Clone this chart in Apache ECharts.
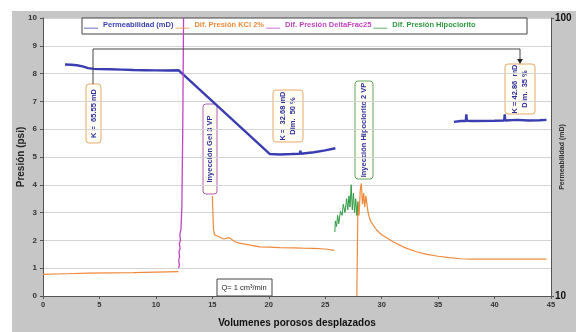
<!DOCTYPE html>
<html lang="es">
<head>
  <meta charset="UTF-8">
  <script src="https://cdn.jsdelivr.net/npm/echarts@6/dist/echarts.min.js"></script>
  <style>
    body { margin: 0; background: #fff; }
    #container { position: absolute; left: 12px; top: 11px; width: 564px; height: 321px; }
  </style>
</head>
<body>
  <div id="container"></div>
  <script>
    // nombres de series
    var seriesNames = ['Permeabilidad (mD)', 'Dif. Presión KCl 2%', 'Dif. Presión DeltaFrac25', 'Dif. Presión Hipoclorito'];
    var seriesColors = ['#3a3eb0', '#f08a3a', '#c044c0', '#2e9a40'];

    // permeabilidad (VP, mD) - eje derecho log
    var permData = [
      [1.95, 68.0], [2.5, 67.9], [3.0, 67.6], [3.5, 67.0], [4.0, 66.0], [4.5, 65.6], [5, 65.5], [6, 65.4],
      [7, 65.2], [8, 65.0], [9, 64.9], [10, 64.8], [11, 64.7], [12.0, 64.9],
      [20.1, 32.4], [21, 32.3], [22, 32.4], [22.75, 32.5], [22.8, 33.3], [22.85, 32.5], [24, 32.9], [25, 33.4], [25.9, 34.0],
      [26, '-'],
      [36.4, 42.3], [37, 42.6], [37.45, 42.6], [37.5, 45.0], [37.55, 42.7], [38, 42.6], [40, 42.7],
      [40.85, 42.8], [40.9, 45.0], [40.95, 42.8], [42, 43.0], [43, 42.8], [44, 42.9], [44.6, 43.0]
    ];

    // presion KCl (VP, psi)
    var kclData = [
      [0, 0.78], [2, 0.8], [4, 0.82], [6, 0.83], [8, 0.84], [10, 0.86], [12, 0.88],
      [13, '-'],
      [15.0, 3.6], [15.1, 2.4], [15.2, 2.2], [15.5, 2.15], [16, 2.05], [16.5, 2.1], [17, 1.95], [17.4, 1.9],
      [18, 1.86], [19.2, 1.77], [20, 1.76], [21, 1.74], [22.1, 1.73], [23, 1.72], [24, 1.71], [25, 1.69], [25.8, 1.64],
      [26.5, '-'],
      [27.8, 0], [27.9, 3.4], [28.0, 2.9], [28.1, 3.8], [28.2, 4.05], [28.3, 3.3], [28.4, 3.7], [28.5, 3.2],
      [28.6, 3.6], [28.8, 3.0], [29, 2.7], [29.5, 2.4], [30, 2.2], [31, 1.95], [32, 1.75], [33, 1.6], [34, 1.5],
      [35, 1.43], [36, 1.38], [37, 1.34], [38, 1.33], [40, 1.33], [42, 1.33], [44.6, 1.33]
    ];

    // presion DeltaFrac25 (VP, psi)
    var deltaData = [
      [12.0, 1.0], [12.08, 1.1], [12.02, 1.3], [12.1, 1.4], [12.05, 1.6], [12.14, 1.7], [12.08, 1.9],
      [12.18, 2.0], [12.12, 2.2], [12.22, 2.4], [12.3, 3.2], [12.38, 6.0], [12.45, 10.0]
    ];

    // presion hipoclorito (VP, psi)
    var hipoData = [
      [25.85, 2.3], [25.9, 2.7], [26.0, 2.5], [26.1, 2.9], [26.2, 2.6], [26.35, 3.05], [26.5, 2.9], [26.6, 3.3],
      [26.75, 3.0], [26.9, 3.5], [27.0, 3.1], [27.1, 3.6], [27.2, 3.2], [27.3, 4.0], [27.4, 3.1], [27.5, 3.7],
      [27.6, 3.0], [27.7, 3.5], [27.8, 2.9], [27.9, 3.4]
    ];

    var font = 'Liberation Sans, Arial, sans-serif';
    var myChart = echarts.init(document.getElementById('container'));

    function box(x, y, w, h, border, text) {
      return {
        type: 'group', z: 6,
        children: [
          { type: 'rect', shape: { x: x, y: y, width: w, height: h, r: 3 },
            style: { fill: '#fffef4', stroke: border, lineWidth: 1 } },
          { type: 'text', x: x + w / 2, y: y + h / 2, rotation: Math.PI / 2,
            style: { text: text, align: 'center', verticalAlign: 'middle', fill: '#2e2e9c',
              font: 'bold 7.5px ' + font, lineHeight: 10 } }
        ]
      };
    }

    var option = {
      backgroundColor: '#c6c6c6',
      animation: false,
      grid: { left: 31, right: 25, top: 7, bottom: 36, show: true, backgroundColor: '#fff', borderWidth: 0,
        containLabel: false, outerBoundsMode: 'none' },
      legend: {
        left: 72, top: 10, padding: 0, itemWidth: 14, itemHeight: 9, itemGap: 2,
        icon: 'path://M0,0L0.01,0L0.01,0.01ZM0,9L20,9L20,10L0,10Z',
        textStyle: { fontSize: 7.5, fontWeight: 'bold', fontFamily: font },
        data: seriesNames.map(function (n, i) { return { name: n, textStyle: { color: seriesColors[i] } }; })
      },
      xAxis: {
        type: 'value', min: 0, max: 45, interval: 5,
        axisLine: { onZero: false, lineStyle: { color: '#555' } },
        axisTick: { length: 3, lineStyle: { color: '#555' } },
        axisLabel: { fontSize: 7.5, fontWeight: 'bold', color: '#333', margin: 5, fontFamily: font },
        splitLine: { show: false },
        name: 'Volumenes porosos desplazados', nameLocation: 'middle', nameGap: 22, nameMoveOverlap: false,
        nameTextStyle: { fontSize: 10, fontWeight: 'bold', color: '#111', fontFamily: font }
      },
      yAxis: [
        {
          type: 'value', min: 0, max: 10, interval: 1,
          axisLine: { show: true, lineStyle: { color: '#555' } },
          axisTick: { show: true, length: 3, lineStyle: { color: '#555' } },
          axisLabel: { fontSize: 8, fontWeight: 'bold', color: '#333', margin: 6, fontFamily: font },
          splitLine: { lineStyle: { color: '#d4d4d4' } },
          name: 'Presión (psi)', nameLocation: 'middle', nameGap: 17, nameRotate: 90, nameMoveOverlap: false,
          nameTextStyle: { fontSize: 10, fontWeight: 'bold', color: '#222', fontFamily: font }
        },
        {
          type: 'log', logBase: 10, min: 10, max: 100, position: 'right',
          axisLine: { show: true, lineStyle: { color: '#555' } },
          axisTick: { show: true, length: 3, lineStyle: { color: '#555' } },
          axisLabel: { fontSize: 10, fontWeight: 'bold', color: '#111', margin: 4, fontFamily: font },
          splitLine: { show: false },
          name: 'Permeabilidad (mD)', nameLocation: 'middle', nameGap: 8, nameRotate: 90, nameMoveOverlap: false,
          nameTextStyle: { fontSize: 7, fontWeight: 'bold', color: '#333', fontFamily: font }
        }
      ],
      series: [
        { name: seriesNames[0], type: 'line', yAxisIndex: 1, showSymbol: false, color: seriesColors[0],
          lineStyle: { width: 2.4 }, data: permData },
        { name: seriesNames[1], type: 'line', yAxisIndex: 0, showSymbol: false, color: seriesColors[1],
          lineStyle: { width: 1.2 }, data: kclData },
        { name: seriesNames[2], type: 'line', yAxisIndex: 0, showSymbol: false, color: seriesColors[2],
          lineStyle: { width: 1.3 }, data: deltaData },
        { name: seriesNames[3], type: 'line', yAxisIndex: 0, showSymbol: false, color: seriesColors[3],
          lineStyle: { width: 1 }, data: hipoData }
      ],
      graphic: [
        { type: 'rect', z: 3, shape: { x: 70, y: 7, width: 445, height: 16 },
          style: { fill: '#fff', stroke: '#444', lineWidth: 1 } },
        // conector entre K inicial y K final
        { type: 'polyline', z: 5, shape: { points: [[81, 73], [81, 38], [508, 38], [508, 49]] },
          style: { stroke: '#444', lineWidth: 1, fill: null } },
        { type: 'polygon', z: 5, shape: { points: [[505, 48], [511, 48], [508, 53]] }, style: { fill: '#222' } },
        box(74, 73, 15, 59, '#e8a868', 'K =  65.55 mD'),
        box(191, 93, 14, 90, '#b060b0', 'Inyección Gel 3 VP'),
        box(261, 79, 30, 52, '#e8a868', 'K =  32.68 mD\nDim.  50 %'),
        box(343, 70, 18, 98, '#60a860', 'Inyección Hipoclorito 2 VP'),
        box(493, 53, 30, 50, '#e8a868', 'K = 42.86  mD\nDim.  35 %'),
        { type: 'group', z: 6, children: [
          { type: 'rect', shape: { x: 205, y: 268, width: 55, height: 17 },
            style: { fill: '#fff', stroke: '#444', lineWidth: 1 } },
          { type: 'text', x: 232, y: 277,
            style: { text: 'Q= 1 cm³/min', align: 'center', verticalAlign: 'middle', fill: '#222',
              font: '7.5px ' + font } }
        ] }
      ]
    };

    myChart.setOption(option);
  </script>
</body>
</html>
